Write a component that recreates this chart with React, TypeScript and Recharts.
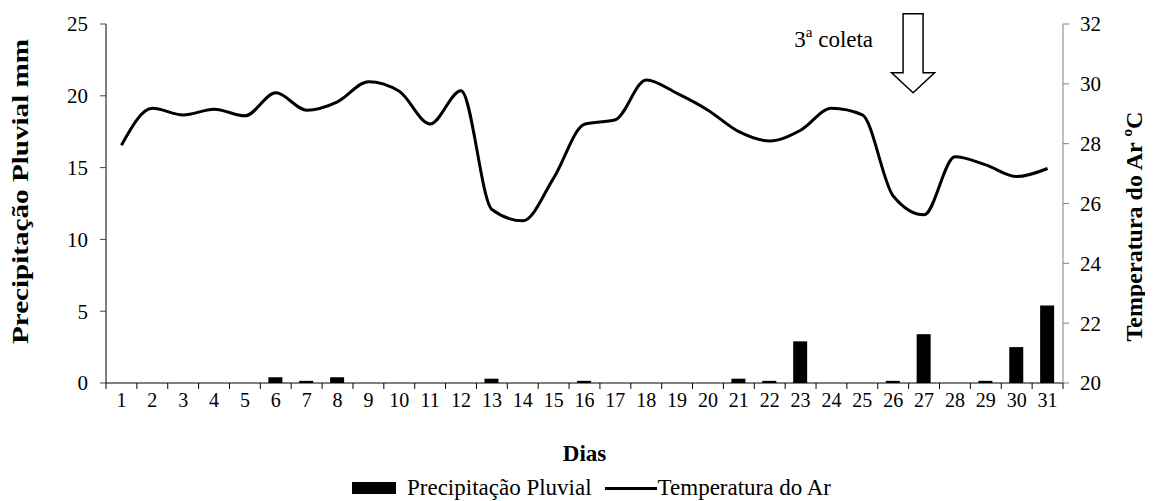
import React from 'react';
import { ComposedChart, Bar, Line, XAxis, YAxis, Legend, ReferenceDot } from 'recharts';

const days = [1, 2, 3, 4, 5, 6, 7, 8, 9, 10, 11, 12, 13, 14, 15, 16, 17, 18, 19, 20, 21, 22, 23, 24, 25, 26, 27, 28, 29, 30, 31];
const precipitation = [0, 0, 0, 0, 0, 0.4, 0.15, 0.4, 0, 0, 0, 0, 0.3, 0, 0, 0.15, 0, 0, 0, 0, 0.3, 0.15, 2.9, 0, 0, 0.15, 3.4, 0, 0.15, 2.5, 5.4];
const temperature = [27.95, 29.18, 28.96, 29.15, 28.93, 29.7, 29.12, 29.4, 30.07, 29.75, 28.66, 29.77, 25.8, 25.42, 26.85, 28.65, 28.8, 30.13, 29.68, 29.12, 28.4, 28.09, 28.45, 29.18, 28.96, 26.25, 25.62, 27.56, 27.29, 26.9, 27.17];
const leftTicks = [0, 5, 10, 15, 20, 25];
const rightTicks = [20, 22, 24, 26, 28, 30, 32];

const data = days.map((d, i) => ({ day: d, precip: precipitation[i], temp: temperature[i] }));

const FONT = "'Liberation Serif', 'Times New Roman', serif";

const DayTick = (props: any) => {
  const { x, y, payload, index } = props;
  const half = payload && typeof payload.offset === 'number' && payload.offset > 0 ? payload.offset : 15.43;
  const axisY = y - 8;
  return (
    <g>
      <line x1={x - half} x2={x - half} y1={axisY} y2={axisY + 6} stroke="#000" strokeWidth={1} />
      {index === days.length - 1 && (
        <line x1={x + half} x2={x + half} y1={axisY} y2={axisY + 6} stroke="#000" strokeWidth={1} />
      )}
      <text x={x} y={y} dy={16} textAnchor="middle" fontFamily={FONT} fontSize={20} fill="#000">
        {payload.value}
      </text>
    </g>
  );
};

const LeftLabel = (props: any) => {
  const vb = props.viewBox || { x: 0, y: 16, width: 98, height: 359 };
  const cx = vb.x + 12;
  const cy = vb.y + vb.height / 2 - 12;
  return (
    <text x={cx} y={cy} transform={`rotate(-90 ${cx} ${cy})`} textAnchor="middle" dominantBaseline="central"
      fontFamily={FONT} fontSize={24} fontWeight="bold" fill="#000" textLength={305} lengthAdjust="spacingAndGlyphs">
      Precipitação Pluvial mm
    </text>
  );
};

const RightLabel = (props: any) => {
  const vb = props.viewBox || { x: 1055, y: 16, width: 90, height: 359 };
  const cx = vb.x + 71;
  const cy = vb.y + vb.height / 2 + 23;
  return (
    <text x={cx} y={cy} transform={`rotate(-90 ${cx} ${cy})`} textAnchor="middle" dominantBaseline="central"
      fontFamily={FONT} fontSize={24} fontWeight="bold" fill="#000">
      Temperatura do Ar ºC
    </text>
  );
};

const ArrowMark = (props: any) => {
  const { cx, cy } = props;
  if (cx == null || cy == null) return null;
  const tx = cx - 11;
  const ty = cy;
  const pts = [
    [tx - 10, ty - 79], [tx + 10, ty - 79], [tx + 10, ty - 20], [tx + 21.5, ty - 20],
    [tx, ty], [tx - 21.5, ty - 20], [tx - 10, ty - 20],
  ].map((p) => p.join(',')).join(' ');
  return (
    <g>
      <polygon points={pts} fill="#fff" stroke="#000" strokeWidth={1.5} />
      <text x={tx - 40} y={ty - 46} textAnchor="end" fontFamily={FONT} fontSize={23} fill="#000">
        <tspan>3</tspan>
        <tspan fontSize={15} dy={-10}>a</tspan>
        <tspan dy={10}> coleta</tspan>
      </text>
    </g>
  );
};

const LegendContent = () => (
  <div style={{ display: 'flex', alignItems: 'center', fontFamily: FONT, fontSize: 23, color: '#000', whiteSpace: 'nowrap', height: 26 }}>
    <span style={{ display: 'inline-block', width: 44, height: 12, background: '#000', marginRight: 11 }} />
    <span>Precipitação Pluvial</span>
    <span style={{ display: 'inline-block', width: 52, height: 3, background: '#000', marginLeft: 13, marginRight: 1 }} />
    <span>Temperatura do Ar</span>
  </div>
);

export default function App() {
  return (
    <div style={{ width: 1145, height: 493, position: 'relative' }}>
      <ComposedChart width={1145} height={493} data={data} margin={{ top: 16, right: 0, left: 0, bottom: 7 }} barSize={14}>
        <XAxis
          dataKey="day"
          height={85}
          interval={0}
          tickLine={false}
          tickSize={6}
          tickMargin={2}
          axisLine={{ stroke: '#000', strokeWidth: 1 }}
          tick={<DayTick />}
          label={{ value: 'Dias', position: 'insideBottom', offset: 7, fontFamily: FONT, fontSize: 23, fontWeight: 'bold', fill: '#000' }}
        />
        <YAxis
          yAxisId="left"
          orientation="left"
          width={98}
          domain={[0, 25]}
          ticks={leftTicks}
          interval={0}
          tickSize={6}
          tickMargin={12}
          axisLine={{ stroke: '#000', strokeWidth: 1 }}
          tickLine={{ stroke: '#444', strokeWidth: 1 }}
          tick={{ fontFamily: FONT, fontSize: 21, fill: '#000' }}
          label={<LeftLabel />}
        />
        <YAxis
          yAxisId="right"
          orientation="right"
          width={90}
          domain={[20, 32]}
          ticks={rightTicks}
          interval={0}
          tickSize={6}
          tickMargin={11}
          axisLine={{ stroke: '#808080', strokeWidth: 1 }}
          tickLine={{ stroke: '#808080', strokeWidth: 1 }}
          tick={{ fontFamily: FONT, fontSize: 21, fill: '#000' }}
          label={<RightLabel />}
        />
        <Bar yAxisId="left" dataKey="precip" name="Precipitação Pluvial" fill="#000" isAnimationActive={false} />
        <Line yAxisId="right" type="monotone" dataKey="temp" name="Temperatura do Ar" stroke="#000" strokeWidth={3} dot={false} activeDot={false} isAnimationActive={false} />
        <ReferenceDot yAxisId="right" x={27} y={29.7} shape={<ArrowMark />} ifOverflow="visible" />
        <Legend
          verticalAlign="bottom"
          height={26}
          content={<LegendContent />}
          wrapperStyle={{ left: 344, width: 'auto', height: 26, bottom: 0 }}
        />
      </ComposedChart>
    </div>
  );
}
